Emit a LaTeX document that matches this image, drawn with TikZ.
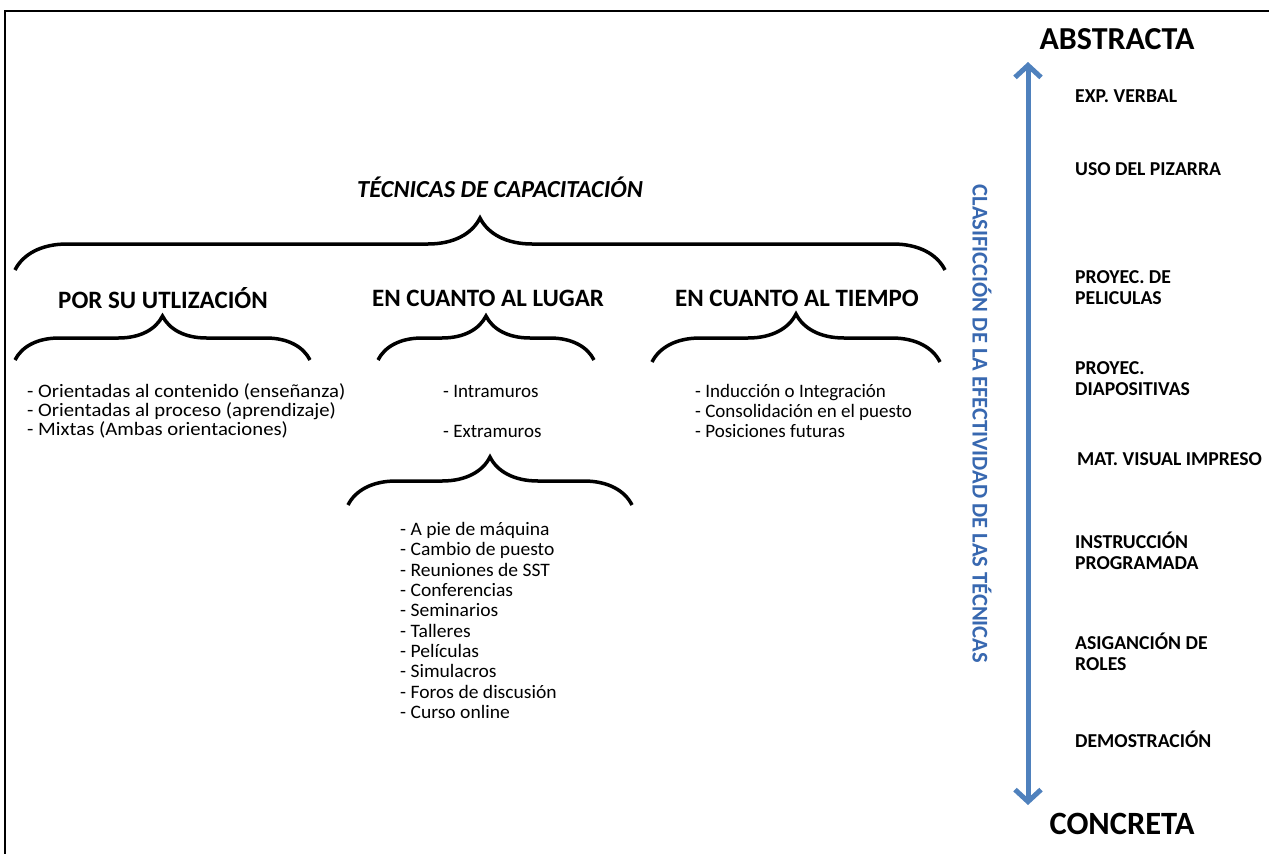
\documentclass[tikz,border=0pt]{standalone}
\usepackage{fontspec}
\setmainfont{Carlito}
\usetikzlibrary{arrows.meta,decorations.pathreplacing}
\definecolor{axisblue}{RGB}{79,129,189}
\definecolor{labelblue}{RGB}{56,104,176}
\tikzset{
    head/.style={inner sep=0mm, font=\bfseries\fontsize{25}{28}\selectfont},
    item/.style={anchor=west, inner sep=0mm, text height=0.72em, text depth=0.2em, font=\fontsize{19}{21}\selectfont},
    level/.style={anchor=west, align=left, inner sep=0mm, font=\bfseries\fontsize{19.7}{21}\selectfont},
    curly/.style={decorate, decoration={brace, amplitude=#1}, line width=3.5pt}
}

\begin{document}
\begin{tikzpicture}[x=1pt, y=-1pt]
        \useasboundingbox (0,0) rectangle (1269,854);
        \draw[line width=2.5pt] (1269,11) -- (5,11) -- (5,854);
        % tree of techniques
        \node (title) [head, font=\bfseries\itshape\fontsize{24.5}{27}\selectfont] at (500,187) {TÉCNICAS DE CAPACITACIÓN};
        \node (use) [head] at (163,298) {POR SU UTLIZACIÓN};
        \node (place) [head] at (488,298) {EN CUANTO AL LUGAR};
        \node (time) [head] at (797,298) {EN CUANTO AL TIEMPO};
        \coordinate (b0l) at (15,270);
        \coordinate (b0r) at (945,270);
        \coordinate (b1l) at (15,360);
        \coordinate (b1r) at (310,360);
        \coordinate (b2l) at (378,360);
        \coordinate (b2r) at (594,360);
        \coordinate (b3l) at (652,362);
        \coordinate (b3r) at (940,362);
        \coordinate (b4l) at (348,505);
        \coordinate (b4r) at (632,505);
        \draw[curly=52] (b0l) -- (b0r);
        \draw[curly=44] (b1l) -- (b1r);
        \draw[curly=44] (b2l) -- (b2r);
        \draw[curly=48] (b3l) -- (b3r);
        \draw[curly=48] (b4l) -- (b4r);
        \foreach \t [count=\i] in {{- Orientadas al contenido (enseñanza)}, {- Orientadas al proceso (aprendizaje)}, {- Mixtas (Ambas orientaciones)}}
                \node (use\i) [item, xscale=1.09, transform shape] at (27, {395+19*(\i-1)}) {\t};
        \node (intra) [item] at (443,395) {- Intramuros};
        \node (extra) [item] at (443,435) {- Extramuros};
        \foreach \t [count=\i] in {{- A pie de máquina}, {- Cambio de puesto}, {- Reuniones de SST}, {- Conferencias}, {- Seminarios}, {- Talleres}, {- Películas}, {- Simulacros}, {- Foros de discusión}, {- Curso online}}
                \node (extra\i) [item, xscale=1.03, transform shape] at (400, {533+20.3*(\i-1)}) {\t};
        \foreach \t [count=\i] in {{- Inducción o Integración}, {- Consolidación en el puesto}, {- Posiciones futuras}}
                \node (time\i) [item] at (695, {395+20*(\i-1)}) {\t};
        % scale of effectiveness
        \node (axislabel) [rotate=-90, inner sep=0mm, text=labelblue, font=\bfseries\fontsize{22.5}{24}\selectfont] at (982,424) {CLASIFICCIÓN DE LA EFECTIVIDAD DE LAS TÉCNICAS};
        \coordinate (up) at (1028,62);
        \coordinate (down) at (1028,805);
        \draw[axisblue, line width=5pt, {Straight Barb[length=12pt,width=26pt]}-{Straight Barb[length=12pt,width=26pt]}] (up) -- (down);
        \node (abstract) [head, font=\bfseries\fontsize{32}{34}\selectfont] at (1117,39) {ABSTRACTA};
        \node (concrete) [head, font=\bfseries\fontsize{32.5}{34}\selectfont] at (1122,824) {CONCRETA};
        \node (l1) [level] at (1075,96) {EXP. VERBAL};
        \node (l2) [level] at (1075,169) {USO DEL PIZARRA};
        \node (l3) [level] at (1075,288) {PROYEC. DE\\PELICULAS};
        \node (l4) [level] at (1075,379) {PROYEC.\\DIAPOSITIVAS};
        \node (l5) [level] at (1077,459) {MAT. VISUAL IMPRESO};
        \node (l6) [level] at (1075,551) {INSTRUCCIÓN\\PROGRAMADA};
        \node (l7) [level] at (1075,652) {ASIGANCIÓN DE\\ROLES};
        \node (l8) [level] at (1075,739) {DEMOSTRACIÓN};
\end{tikzpicture}
\end{document}
